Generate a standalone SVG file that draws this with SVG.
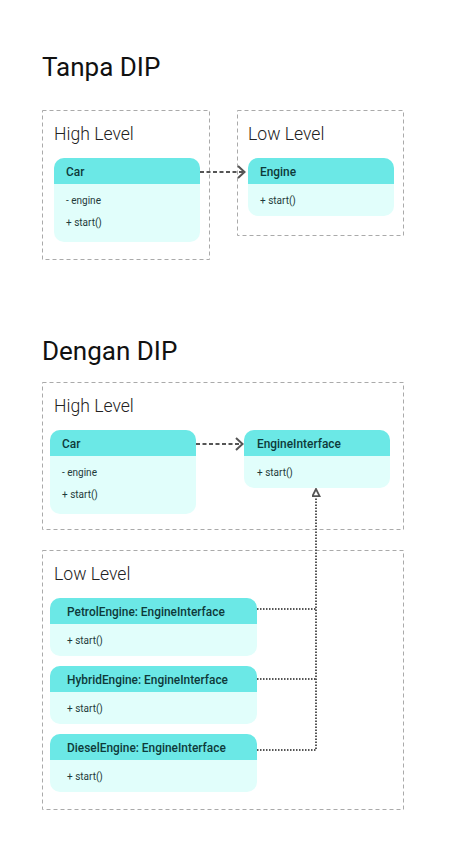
<svg xmlns="http://www.w3.org/2000/svg" width="450" height="858" viewBox="0 0 450 858">
<defs>
<style>
.title{font-family:Roboto,"Liberation Sans",sans-serif;font-size:26px;fill:#111}
.group{fill:none;stroke:#aaa;stroke-width:1;stroke-dasharray:4 3}
.glabel{font-family:Roboto,"Liberation Sans",sans-serif;font-weight:300;font-size:17.6px;fill:#222}
.hdr{fill:#6be8e6}
.body{fill:#e1fefb}
.name{font-family:Roboto,"Liberation Sans",sans-serif;font-weight:500;font-size:11.9px;fill:#0e3a3a}
.mem{font-family:Roboto,"Liberation Sans",sans-serif;font-size:10px;fill:#1f3a3a}
.dash{fill:none;stroke:#555;stroke-width:2;stroke-dasharray:4 2.5}
.dot{fill:none;stroke:#555;stroke-width:2;stroke-dasharray:1.5 1.5}
</style>
<marker id="open" viewBox="0 0 10 14" refX="9" refY="7" markerWidth="10" markerHeight="14" markerUnits="userSpaceOnUse" orient="auto">
<path d="M2 1 L8.5 7 L2 13" fill="none" stroke="#555" stroke-width="2"/>
</marker>
<marker id="tri" viewBox="0 0 10 10" refX="9" refY="5" markerWidth="9" markerHeight="9" markerUnits="userSpaceOnUse" orient="auto">
<path d="M1 1 L9 5 L1 9 Z" fill="#fff" stroke="#555" stroke-width="2"/>
</marker>
</defs>
<rect width="450" height="858" fill="#fff"/>

<text class="title" x="42" y="76">Tanpa DIP</text>
<g id="high1">
<rect class="group" x="42.5" y="110.5" width="167" height="149"/>
<text class="glabel" x="54" y="140">High Level</text>
</g>
<g id="low1">
<rect class="group" x="237.5" y="110.5" width="166" height="125"/>
<text class="glabel" x="248" y="140">Low Level</text>
</g>
<g id="car1">
<rect class="body" x="54" y="158" width="146" height="84" rx="10"/>
<path class="hdr" d="M54 184 V168 A10 10 0 0 1 64 158 H190 A10 10 0 0 1 200 168 V184 Z"/>
<text class="name" x="66" y="176">Car</text>
<text class="mem" x="66" y="204">- engine</text>
<text class="mem" x="66" y="226">+ start()</text>
</g>
<g id="engine1">
<rect class="body" x="248" y="158" width="146" height="58" rx="10"/>
<path class="hdr" d="M248 184 V168 A10 10 0 0 1 258 158 H384 A10 10 0 0 1 394 168 V184 Z"/>
<text class="name" x="260" y="176">Engine</text>
<text class="mem" x="260" y="204">+ start()</text>
</g>

<text class="title" x="42" y="360">Dengan DIP</text>
<g id="high2">
<rect class="group" x="42.5" y="382.5" width="361" height="147"/>
<text class="glabel" x="54" y="412">High Level</text>
</g>
<g id="low2">
<rect class="group" x="42.5" y="550.5" width="361" height="259"/>
<text class="glabel" x="54" y="580">Low Level</text>
</g>
<g id="car2">
<rect class="body" x="50" y="430" width="146" height="84" rx="10"/>
<path class="hdr" d="M50 456 V440 A10 10 0 0 1 60 430 H186 A10 10 0 0 1 196 440 V456 Z"/>
<text class="name" x="62" y="448">Car</text>
<text class="mem" x="62" y="476">- engine</text>
<text class="mem" x="62" y="498">+ start()</text>
</g>
<g id="engineInterface">
<rect class="body" x="244" y="430" width="146" height="58" rx="10"/>
<path class="hdr" d="M244 456 V440 A10 10 0 0 1 254 430 H380 A10 10 0 0 1 390 440 V456 Z"/>
<text class="name" x="257" y="448">EngineInterface</text>
<text class="mem" x="257" y="476">+ start()</text>
</g>
<g id="petrol">
<rect class="body" x="50" y="598" width="207" height="58" rx="10"/>
<path class="hdr" d="M50 624 V608 A10 10 0 0 1 60 598 H247 A10 10 0 0 1 257 608 V624 Z"/>
<text class="name" x="67" y="616">PetrolEngine: EngineInterface</text>
<text class="mem" x="67" y="644">+ start()</text>
</g>
<g id="hybrid">
<rect class="body" x="50" y="666" width="207" height="58" rx="10"/>
<path class="hdr" d="M50 692 V676 A10 10 0 0 1 60 666 H247 A10 10 0 0 1 257 676 V692 Z"/>
<text class="name" x="67" y="684">HybridEngine: EngineInterface</text>
<text class="mem" x="67" y="712">+ start()</text>
</g>
<g id="diesel">
<rect class="body" x="50" y="734" width="207" height="58" rx="10"/>
<path class="hdr" d="M50 760 V744 A10 10 0 0 1 60 734 H247 A10 10 0 0 1 257 744 V760 Z"/>
<text class="name" x="67" y="752">DieselEngine: EngineInterface</text>
<text class="mem" x="67" y="780">+ start()</text>
</g>

<g id="connectors">
<path class="dash" d="M200 172 H245" marker-end="url(#open)"/>
<path class="dash" d="M196 444 H243" marker-end="url(#open)"/>
<path class="dot" d="M257 609 H316"/>
<path class="dot" d="M257 679 H316"/>
<path class="dot" d="M257 750 H316 V489" marker-end="url(#tri)"/>
</g>
</svg>
